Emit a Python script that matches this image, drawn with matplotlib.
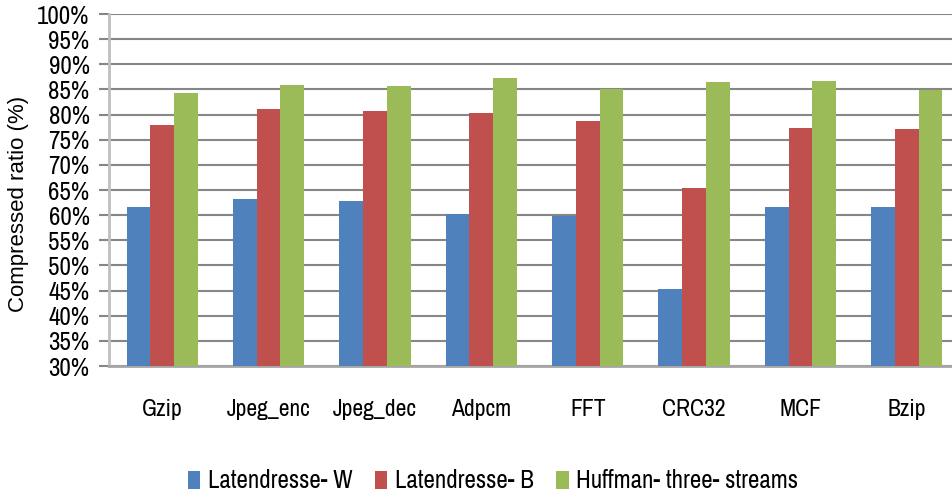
import numpy as np
import matplotlib
matplotlib.use("Agg")
import matplotlib.pyplot as plt
from matplotlib import font_manager

benchmarks = ["Gzip", "Jpeg_enc", "Jpeg_dec", "Adpcm", "FFT", "CRC32", "MCF", "Bzip"]
latendresse_w = [61.6, 63.2, 62.8, 60.2, 59.9, 45.3, 61.6, 61.6]
latendresse_b = [77.9, 81.1, 80.7, 80.3, 78.7, 65.4, 77.3, 77.1]
huffman_three = [84.3, 85.9, 85.7, 87.3, 85.0, 86.5, 86.7, 84.9]
series_names = ["Latendresse- W", "Latendresse- B", "Huffman- three- streams"]
colors = ["#4F81BD", "#C0504D", "#9BBB59"]

installed = {f.name for f in font_manager.fontManager.ttflist}

def pick(cands):
    for c in cands:
        if c in installed:
            return [c, "DejaVu Sans"]
    return ["DejaVu Sans"]

narrow = pick(["Liberation Sans Narrow", "Arial Narrow", "Archivo Narrow", "Fira Sans Condensed"])
regular = pick(["Liberation Sans", "Arimo", "Arial"])

fig = plt.figure(figsize=(9.52, 4.99), dpi=100)
ax = fig.add_axes([109 / 952, 1 - 366 / 499, 851 / 952, 352 / 499])

x = np.arange(len(benchmarks))
w = 0.223
for j, vals in enumerate([latendresse_w, latendresse_b, huffman_three]):
    ax.bar(x + (j - 1) * w, np.array(vals) - 30, width=w, bottom=30,
           color=colors[j], label=series_names[j], zorder=3)

ax.set_xlim(-0.5, 7.5)
ax.set_ylim(30, 100)
yt = np.arange(30, 101, 5)
ax.set_yticks(yt)
ax.set_yticklabels([f"{v}%" for v in yt], family=narrow, fontsize=18)
ax.set_xticks(x)
ax.set_xticklabels(benchmarks, family=narrow, fontsize=17)
ax.tick_params(axis="x", length=0, pad=24)
ax.tick_params(axis="y", length=7, width=1.5, color="#868686", pad=7, direction="out")

ax.yaxis.grid(True, color="#868686", linewidth=1.5, zorder=0)
ax.set_axisbelow(True)
for s in ["top", "right"]:
    ax.spines[s].set_visible(False)
ax.spines["left"].set_color("#BFBFBF")
ax.spines["left"].set_linewidth(2)
ax.spines["bottom"].set_color("#A6A6A6")
ax.spines["bottom"].set_linewidth(2)

ax.set_ylabel("Compressed ratio (%)", family=regular, fontsize=16)
ax.yaxis.set_label_coords(-0.094, 0.46)

fig.legend(loc="center", bbox_to_anchor=(493 / 952, 1 - 481 / 499), ncol=3,
           frameon=False, prop={"family": narrow, "size": 18},
           handlelength=0.5, handleheight=0.7, handletextpad=0.3,
           columnspacing=0.9)

fig.savefig("out.png", dpi=100)
